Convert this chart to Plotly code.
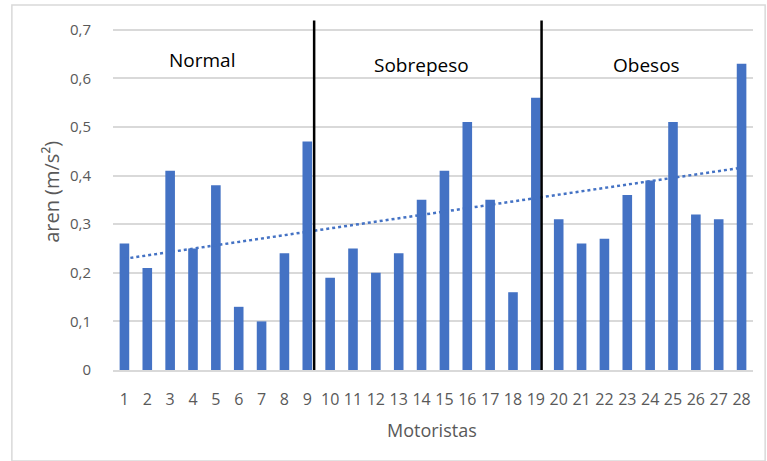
import numpy as np
import plotly.graph_objects as go

# Motoristas and their aren values (m/s²)
motoristas = list(range(1, 29))
aren = [0.26, 0.21, 0.41, 0.25, 0.38, 0.13, 0.10, 0.24, 0.47,
        0.19, 0.25, 0.20, 0.24, 0.35, 0.41, 0.51, 0.35, 0.16, 0.56,
        0.31, 0.26, 0.27, 0.36, 0.39, 0.51, 0.32, 0.31, 0.63]

# Group labels and the category boundaries separating them
grupos = ["Normal", "Sobrepeso", "Obesos"]
grupo_x = [4.4, 14.0, 23.85]
grupo_y = [0.637, 0.627, 0.627]
limites = [9.3, 19.25]

y_ticks = [0, 0.1, 0.2, 0.3, 0.4, 0.5, 0.6, 0.7]
y_ticktext = ["0", "0,1", "0,2", "0,3", "0,4", "0,5", "0,6", "0,7"]

# Linear trend fitted to the series
slope, intercept = np.polyfit(motoristas, aren, 1)
trend_x = [1, 28]
trend_y = [slope * x + intercept for x in trend_x]

grey = "#595959"
font_family = "Open Sans, Liberation Sans, sans-serif"

fig = go.Figure()
fig.add_trace(go.Bar(
    x=motoristas, y=aren, width=0.42,
    marker=dict(color="#4472C4", line=dict(width=0)),
    showlegend=False,
))
fig.add_trace(go.Scatter(
    x=trend_x, y=trend_y, mode="lines",
    line=dict(color="#4472C4", width=2.5, dash="dot"),
    showlegend=False, hoverinfo="skip",
))

for xv in limites:
    fig.add_shape(type="line", xref="x", yref="y", x0=xv, x1=xv, y0=0, y1=0.719,
                  line=dict(color="black", width=2.5))

for nombre, gx, gy in zip(grupos, grupo_x, grupo_y):
    fig.add_annotation(x=gx, y=gy, xref="x", yref="y", text=nombre,
                       showarrow=False, font=dict(size=19, color="black", family=font_family))

# Axis titles
fig.add_annotation(x=-0.0953, y=0.509, xref="paper", yref="paper", text="aren (m/s²)",
                   textangle=-90, showarrow=False, xanchor="center", yanchor="middle",
                   font=dict(size=20, color=grey, family=font_family))
fig.add_annotation(x=0.498, y=-0.171, xref="paper", yref="paper", text="Motoristas",
                   showarrow=False, xanchor="center", yanchor="middle",
                   font=dict(size=18, color=grey, family=font_family))

# Light outer frame of the chart
fig.add_shape(type="rect", xref="paper", yref="paper",
              x0=-0.158, x1=1.019, y0=-0.26, y1=1.043,
              line=dict(color="#d9d9d9", width=1.5), layer="below")

fig.update_layout(
    width=767, height=461,
    margin=dict(l=113, r=14, t=20, b=91),
    paper_bgcolor="white", plot_bgcolor="white",
    font=dict(family=font_family, color=grey, size=14),
    xaxis=dict(
        range=[0.5, 28.5], tickmode="array", tickvals=motoristas,
        ticktext=[str(m) for m in motoristas],
        showgrid=False, showline=True, linecolor="#d9d9d9", linewidth=1.5,
        ticks="outside", ticklen=14, tickcolor="rgba(0,0,0,0)",
        tickfont=dict(size=16, color=grey),
        zeroline=False,
    ),
    yaxis=dict(
        range=[0, 0.72], tickmode="array", tickvals=y_ticks, ticktext=y_ticktext,
        showgrid=True, gridcolor="#d9d9d9", gridwidth=1.5,
        ticks="outside", ticklen=18, tickcolor="rgba(0,0,0,0)",
        tickfont=dict(size=15, color=grey),
        zeroline=False, showline=False,
    ),
)

fig.write_html("out.html")
